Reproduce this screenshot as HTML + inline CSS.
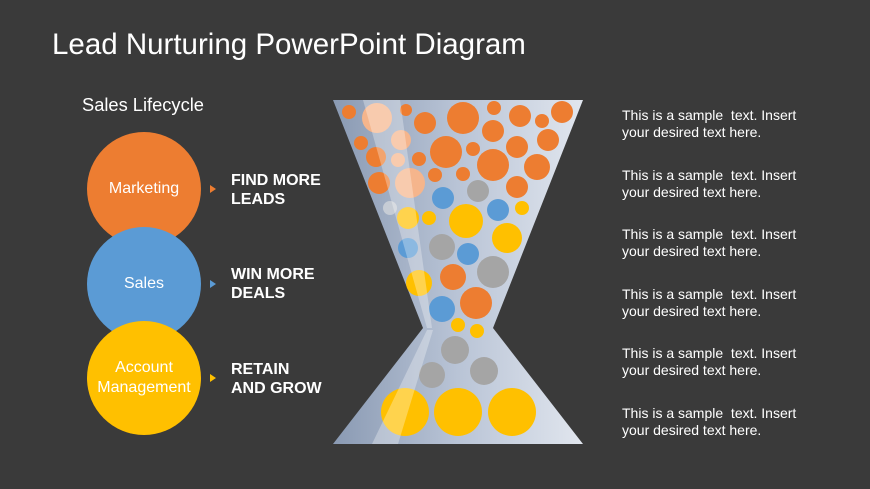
<!DOCTYPE html>
<html><head><meta charset="utf-8"><style>
body{margin:0;width:870px;height:489px;background:#3a3a3a;overflow:hidden;font-family:"Liberation Sans",sans-serif;position:relative}
.t{position:absolute;color:#fff;white-space:pre}
.c{position:absolute;width:114px;height:114px;border-radius:50%;display:flex;align-items:center;justify-content:center;text-align:center;color:#fff;font-size:16px;line-height:20px}
.b{font-weight:bold;font-size:16px;line-height:19px}
.r{font-size:14px;line-height:17px;color:#fff}
.tri{position:absolute;width:0;height:0;border-top:4px solid transparent;border-bottom:4px solid transparent;border-left:6px solid}
</style></head><body>
<div class="t" style="left:52px;top:28px;font-size:29.5px">Lead Nurturing PowerPoint Diagram</div>
<div class="t" style="left:82px;top:94px;font-size:18.3px">Sales Lifecycle</div>
<div class="c" style="left:87px;top:132px;background:#ed7d31">Marketing</div>
<div class="c" style="left:87px;top:227px;background:#5b9bd5">Sales</div>
<div class="c" style="left:87px;top:321px;background:#ffc000">Account<br>Management</div>
<div class="tri" style="left:210px;top:185px;border-left-color:#ed7d31"></div>
<div class="tri" style="left:210px;top:280px;border-left-color:#5b9bd5"></div>
<div class="tri" style="left:210px;top:374px;border-left-color:#ffc000"></div>
<div class="t b" style="left:231px;top:171px">FIND MORE
LEADS</div>
<div class="t b" style="left:231px;top:265px">WIN MORE
DEALS</div>
<div class="t b" style="left:231px;top:360px">RETAIN
AND GROW</div>
<div class="t r" style="left:622px;top:107px">This is a sample  text. Insert
your desired text here.</div>
<div class="t r" style="left:622px;top:167px">This is a sample  text. Insert
your desired text here.</div>
<div class="t r" style="left:622px;top:226px">This is a sample  text. Insert
your desired text here.</div>
<div class="t r" style="left:622px;top:286px">This is a sample  text. Insert
your desired text here.</div>
<div class="t r" style="left:622px;top:345px">This is a sample  text. Insert
your desired text here.</div>
<div class="t r" style="left:622px;top:405px">This is a sample  text. Insert
your desired text here.</div>
<svg style="position:absolute;left:0;top:0" width="870" height="489">
<defs><linearGradient id="g" x1="0" x2="1" y1="0" y2="0"><stop offset="0" stop-color="#8a9ab3"/><stop offset="0.5" stop-color="#b9c4d6"/><stop offset="1" stop-color="#e1e6ee"/></linearGradient></defs>
<polygon points="333,100 583,100 493,328 583,444 333,444 423,328" fill="url(#g)"/>
<g fill="#ed7d31">
<circle cx="349" cy="112" r="7"/><circle cx="406" cy="110" r="6"/><circle cx="425" cy="123" r="11"/><circle cx="463" cy="118" r="16"/><circle cx="494" cy="108" r="7"/><circle cx="520" cy="116" r="11"/><circle cx="542" cy="121" r="7"/><circle cx="562" cy="112" r="11"/><circle cx="361" cy="143" r="7"/><circle cx="493" cy="131" r="11"/><circle cx="548" cy="140" r="11"/><circle cx="376" cy="157" r="10"/><circle cx="419" cy="159" r="7"/><circle cx="446" cy="152" r="16"/><circle cx="473" cy="149" r="7"/><circle cx="517" cy="147" r="11"/><circle cx="493" cy="165" r="16"/><circle cx="537" cy="167" r="13"/><circle cx="379" cy="183" r="11"/><circle cx="435" cy="175" r="7"/><circle cx="463" cy="174" r="7"/><circle cx="517" cy="187" r="11"/><circle cx="453" cy="277" r="13"/><circle cx="476" cy="303" r="16"/>
</g>
<g fill="#f5b58c"><circle cx="377" cy="118" r="15"/><circle cx="401" cy="140" r="10"/><circle cx="398" cy="160" r="7"/><circle cx="410" cy="183" r="15"/></g>
<g fill="#5b9bd5"><circle cx="443" cy="198" r="11"/><circle cx="498" cy="210" r="11"/><circle cx="468" cy="254" r="11"/><circle cx="442" cy="309" r="13"/><circle cx="408" cy="248" r="10"/></g>
<g fill="#a5a5a5"><circle cx="478" cy="191" r="11"/><circle cx="442" cy="247" r="13"/><circle cx="493" cy="272" r="16"/><circle cx="455" cy="350" r="14"/><circle cx="484" cy="371" r="14"/><circle cx="432" cy="375" r="13"/><circle cx="390" cy="208" r="7" fill="#c6ccd5"/></g>
<g fill="#ffc000"><circle cx="522" cy="208" r="7"/><circle cx="429" cy="218" r="7"/><circle cx="466" cy="221" r="17"/><circle cx="507" cy="238" r="15"/><circle cx="458" cy="325" r="7"/><circle cx="477" cy="331" r="7"/><circle cx="458" cy="412" r="24"/><circle cx="512" cy="412" r="24"/><circle cx="405" cy="412" r="24"/><circle cx="408" cy="218" r="11"/><circle cx="419" cy="283" r="13"/></g>
<polygon points="363,100 400,100 432,328 427,328" fill="#fff" opacity="0.3"/>
<polygon points="427,330 433,330 398,444 372,444" fill="#fff" opacity="0.3"/>
</svg>
</body></html>
